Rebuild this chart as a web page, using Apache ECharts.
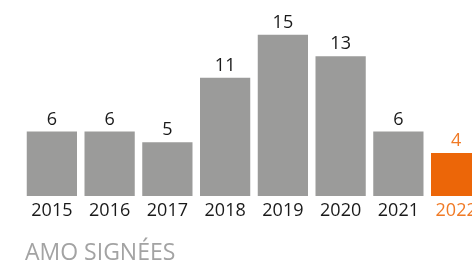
<!DOCTYPE html>
<html><head><meta charset="utf-8">
<script src="https://cdn.jsdelivr.net/npm/echarts@6/dist/echarts.min.js"></script>
<style>html,body{margin:0;padding:0;background:#fff;overflow:hidden;width:472px;height:266px}#c{width:486px;height:266px}</style>
</head><body><div id="c"></div>
<script>
const categories = ['2015','2016','2017','2018','2019','2020','2021','2022'];
const values = [6, 6, 5, 11, 15, 13, 6, 4];
const highlightIndex = 7;
const caption = 'AMO SIGNÉES';

const GRAY = '#9b9b9a';
const ORANGE = '#ec6608';
const ORANGE_TXT = '#f07a25';
const FONT = 'Open Sans';

const chart = echarts.init(document.getElementById('c'));
chart.setOption({
  animation: false,
  grid: { left: 23, top: 24, right: 1, bottom: 70, containLabel: false, outerBoundsMode: 'none' },
  xAxis: {
    type: 'category', data: categories,
    axisLine: { show: false }, axisTick: { show: false },
    axisLabel: {
      fontFamily: FONT, fontSize: 18, margin: 6, hideOverlap: false,
      color: (v, i) => i === highlightIndex ? ORANGE_TXT : '#1a1a1a'
    }
  },
  yAxis: { type: 'value', min: 0, max: 16, show: false, splitLine: { show: false } },
  series: [{
    type: 'bar', barCategoryGap: '13%',
    data: values.map((v, i) => ({
      value: v,
      itemStyle: { color: i === highlightIndex ? ORANGE : GRAY },
      label: { color: i === highlightIndex ? ORANGE_TXT : '#1a1a1a' }
    })),
    label: { show: true, position: 'top', distance: 3, fontFamily: FONT, fontSize: 18 }
  }],
  graphic: [{
    type: 'text', left: 25, top: 242,
    style: { text: caption, fontFamily: FONT, fontSize: 23, fill: '#a3a3a3' }
  }]
});
</script></body></html>
